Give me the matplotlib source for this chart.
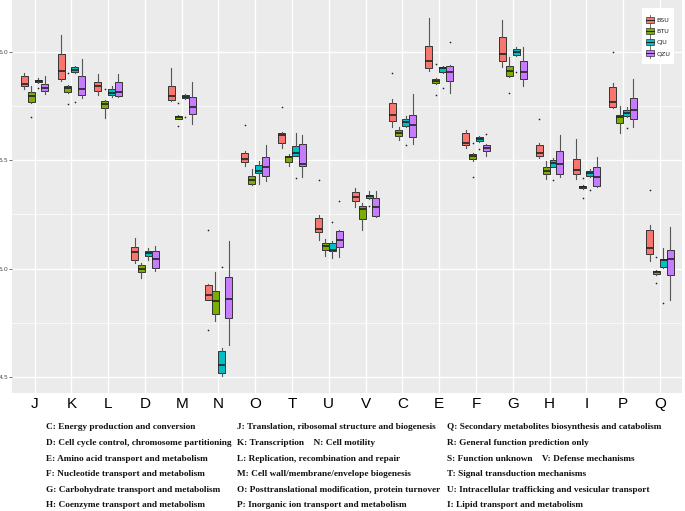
import matplotlib
matplotlib.use("Agg")
import matplotlib.pyplot as plt
from matplotlib.patches import Rectangle
from matplotlib.lines import Line2D

categories = ['J', 'K', 'L', 'D', 'M', 'N', 'O', 'T', 'U', 'V', 'C', 'E', 'F', 'G', 'H', 'I', 'P', 'Q']
series_names = ['BSU', 'BTU', 'CJU', 'QZU']
series_colors = ['#F8766D', '#7CAE00', '#00BFC4', '#C77CFF']

# five-number summaries per category: [whisker low, q1, median, q3, whisker high]
BSU_stats = [
    [5.827, 5.844, 5.853, 5.887, 5.903], [5.867, 5.877, 5.914, 5.991, 6.079],
    [5.801, 5.820, 5.843, 5.860, 5.898], [5.028, 5.040, 5.077, 5.102, 5.142],
    [5.772, 5.777, 5.798, 5.841, 5.928], [4.857, 4.857, 4.880, 4.923, 4.929],
    [5.475, 5.492, 5.507, 5.536, 5.544], [5.555, 5.582, 5.615, 5.627, 5.629],
    [5.131, 5.167, 5.181, 5.233, 5.247], [5.285, 5.310, 5.333, 5.356, 5.374],
    [5.655, 5.683, 5.707, 5.763, 5.781], [5.914, 5.925, 5.958, 6.028, 6.156],
    [5.558, 5.570, 5.581, 5.626, 5.639], [5.931, 5.958, 5.992, 6.069, 6.148],
    [5.510, 5.518, 5.536, 5.572, 5.578], [5.416, 5.435, 5.456, 5.504, 5.598],
    [5.740, 5.744, 5.770, 5.837, 5.855], [5.034, 5.066, 5.093, 5.180, 5.200],
]
BSU_outliers = [[], [], [], [], [], [5.180, 4.719], [5.663], [5.746], [5.408], [],
                [5.904], [], [], [], [5.693], [], [6.0], [5.365]]

BTU_stats = [
    [5.766, 5.770, 5.797, 5.814, 5.844], [5.812, 5.815, 5.832, 5.844, 5.847],
    [5.695, 5.743, 5.758, 5.775, 5.780], [4.958, 4.985, 5.000, 5.018, 5.025],
    [5.689, 5.692, 5.698, 5.706, 5.709], [4.758, 4.789, 4.852, 4.895, 4.985],
    [5.388, 5.393, 5.411, 5.428, 5.458], [5.475, 5.492, 5.515, 5.522, 5.527],
    [5.057, 5.088, 5.103, 5.117, 5.139], [5.177, 5.227, 5.273, 5.290, 5.304],
    [5.596, 5.610, 5.627, 5.641, 5.655], [5.853, 5.857, 5.867, 5.877, 5.880],
    [5.499, 5.504, 5.518, 5.528, 5.533], [5.884, 5.889, 5.914, 5.937, 5.975],
    [5.413, 5.436, 5.453, 5.471, 5.496], [5.368, 5.370, 5.376, 5.382, 5.384],
    [5.624, 5.670, 5.698, 5.710, 5.750], [4.972, 4.976, 4.983, 4.991, 4.994],
]
BTU_outliers = [[5.701], [5.904, 5.761], [5.829], [], [5.766, 5.658], [], [], [], [], [],
                [], [5.945, 5.801], [5.582, 5.422], [5.812], [], [5.419, 5.324], [], [5.054, 4.934]]

CJU_stats = [
    [5.857, 5.860, 5.866, 5.871, 5.881], [5.903, 5.906, 5.918, 5.929, 5.934],
    [5.794, 5.801, 5.812, 5.831, 5.844], [5.042, 5.057, 5.071, 5.083, 5.096],
    [5.784, 5.787, 5.794, 5.800, 5.807], [4.504, 4.519, 4.555, 4.622, 4.635],
    [5.391, 5.443, 5.449, 5.478, 5.498], [5.520, 5.522, 5.536, 5.567, 5.624],
    [5.051, 5.082, 5.088, 5.120, 5.128], [5.322, 5.327, 5.336, 5.342, 5.359],
    [5.652, 5.658, 5.676, 5.692, 5.706], [5.905, 5.909, 5.925, 5.932, 5.937],
    [5.586, 5.590, 5.598, 5.609, 5.613], [5.983, 5.986, 6.000, 6.014, 6.023],
    [5.467, 5.470, 5.487, 5.502, 5.510], [5.421, 5.427, 5.442, 5.453, 5.459],
    [5.700, 5.704, 5.720, 5.733, 5.744], [5.005, 5.008, 5.039, 5.046, 5.096],
]
CJU_outliers = [[5.835], [5.770], [], [], [5.698], [5.008], [], [5.418], [5.213], [5.291],
                [5.570], [5.835], [5.552], [5.909], [5.408], [5.361], [5.647], [4.841]]

QZU_stats = [
    [5.804, 5.820, 5.832, 5.852, 5.887], [5.789, 5.801, 5.829, 5.887, 5.969],
    [5.792, 5.797, 5.815, 5.861, 5.898], [4.991, 5.005, 5.045, 5.082, 5.106],
    [5.667, 5.712, 5.744, 5.790, 5.861], [4.646, 4.774, 4.858, 4.961, 5.128],
    [5.404, 5.428, 5.467, 5.516, 5.572], [5.424, 5.473, 5.481, 5.576, 5.618],
    [5.052, 5.100, 5.134, 5.173, 5.177], [5.239, 5.242, 5.285, 5.325, 5.359],
    [5.575, 5.609, 5.663, 5.707, 5.804], [5.809, 5.866, 5.908, 5.935, 5.938],
    [5.518, 5.542, 5.559, 5.570, 5.574], [5.844, 5.874, 5.908, 5.957, 6.025],
    [5.424, 5.437, 5.482, 5.545, 5.618], [5.376, 5.381, 5.422, 5.467, 5.516],
    [5.655, 5.692, 5.732, 5.787, 5.877], [4.854, 4.970, 5.046, 5.088, 5.193],
]
QZU_outliers = [[], [], [], [], [], [], [], [], [5.314], [],
                [], [6.045], [5.621], [], [], [], [], []]

y_ticks = [4.5, 5.0, 5.5, 6.0]
y_tick_labels = ['4.5', '5.0', '5.5', '6.0']

legend_col1 = [
    "C: Energy production and conversion",
    "D: Cell cycle control, chromosome partitioning",
    "E: Amino acid transport and metabolism",
    "F: Nucleotide transport and metabolism",
    "G: Carbohydrate transport and metabolism",
    "H: Coenzyme transport and metabolism",
]
legend_col2 = [
    "J: Translation, ribosomal structure and biogenesis",
    "K: Transcription    N: Cell motility",
    "L: Replication, recombination and repair",
    "M: Cell wall/membrane/envelope biogenesis",
    "O: Posttranslational modification, protein turnover",
    "P: Inorganic ion transport and metabolism",
]
legend_col3 = [
    "Q: Secondary metabolites biosynthesis and catabolism",
    "R: General function prediction only",
    "S: Function unknown    V: Defense mechanisms",
    "T: Signal transduction mechanisms",
    "U: Intracellular trafficking and vesicular transport",
    "I: Lipid transport and metabolism",
]

W, H = 685, 511
fig = plt.figure(figsize=(W / 100, H / 100), dpi=100)
fig.patch.set_facecolor('white')


def fx(px):
    return px / W


def fy(py):
    return 1 - py / H


ax_left, ax_right, ax_top, ax_bottom = 12.5, 682, 0, 393
ax = fig.add_axes([fx(ax_left), fy(ax_bottom), (ax_right - ax_left) / W, (ax_bottom - ax_top) / H])
ax.set_facecolor('#EBEBEB')
for s in ax.spines.values():
    s.set_visible(False)

n = len(categories)
ax.set_xlim(0.4, n + 0.6)
ax.set_ylim(4.426, 6.240)

# grid
for yv in [4.75, 5.25, 5.75, 6.25]:
    ax.axhline(yv, color='white', lw=0.5, zorder=0)
for yv in y_ticks:
    ax.axhline(yv, color='white', lw=1.0, zorder=0)
for i in range(n):
    ax.axvline(i + 1, color='white', lw=1.0, zorder=0)

all_stats = [BSU_stats, BTU_stats, CJU_stats, QZU_stats]
all_out = [BSU_outliers, BTU_outliers, CJU_outliers, QZU_outliers]
dodge = 0.1875
box_w = 0.19
for si, (st, outs, col) in enumerate(zip(all_stats, all_out, series_colors)):
    offset = (si - 1.5) * dodge
    stats = []
    for ci in range(n):
        wl, q1, med, q3, wh = st[ci]
        stats.append(dict(whislo=wl, q1=q1, med=med, q3=q3, whishi=wh, fliers=outs[ci]))
    positions = [ci + 1 + offset for ci in range(n)]
    bp = ax.bxp(stats, positions=positions, widths=box_w, patch_artist=True,
                showcaps=False, manage_ticks=False,
                boxprops=dict(facecolor=col, edgecolor='#333333', linewidth=0.7),
                medianprops=dict(color='#222222', linewidth=1.2),
                whiskerprops=dict(color='#555555', linewidth=0.8),
                flierprops=dict(marker='o', markersize=1.2, markerfacecolor='#222222',
                                markeredgecolor='none', linestyle='none'))
    for art in bp['boxes'] + bp['medians'] + bp['whiskers'] + bp['fliers']:
        art.set_zorder(3)

ax.set_xticks(range(1, n + 1))
ax.set_xticklabels(categories, fontsize=11, family='Liberation Sans', color='black')
ax.tick_params(axis='x', length=0, pad=3)
ax.set_yticks(y_ticks)
ax.set_yticklabels(y_tick_labels, fontsize=4.5, color='#4D4D4D')
ax.tick_params(axis='y', length=2, width=0.5, color='#333333', pad=1)

# legend (manual, ggplot style)
fig.add_artist(Rectangle((fx(642), fy(64)), 32 / W, 56 / H, transform=fig.transFigure,
                         facecolor='white', edgecolor='none', zorder=5))
key_y = [20, 31.5, 42.5, 53.5]
for ky, col, nm in zip(key_y, series_colors, series_names):
    kx0, kx1 = 645.5, 653.5
    fig.add_artist(Line2D([fx(649.5), fx(649.5)], [fy(ky - 5), fy(ky + 5)], transform=fig.transFigure,
                          color='#555555', lw=0.6, zorder=6))
    fig.add_artist(Rectangle((fx(kx0), fy(ky + 3)), (kx1 - kx0) / W, 6 / H, transform=fig.transFigure,
                             facecolor=col, edgecolor='#333333', lw=0.5, zorder=7))
    fig.add_artist(Line2D([fx(kx0), fx(kx1)], [fy(ky), fy(ky)], transform=fig.transFigure,
                          color='#222222', lw=0.7, zorder=8))
    fig.text(fx(656.5), fy(ky), nm, fontsize=4.6, color='#222222', ha='left', va='center', zorder=8)

col_x = [46, 237, 447]
row_baselines = [429.3, 445.0, 460.6, 476.2, 491.8, 507.4]
for cx, col in zip(col_x, [legend_col1, legend_col2, legend_col3]):
    for by, txt in zip(row_baselines, col):
        fig.text(fx(cx), fy(by), txt, family='Liberation Serif', weight='bold',
                 fontsize=6.7, ha='left', va='baseline', color='#111111')

fig.savefig('out.png', dpi=100, facecolor='white')
